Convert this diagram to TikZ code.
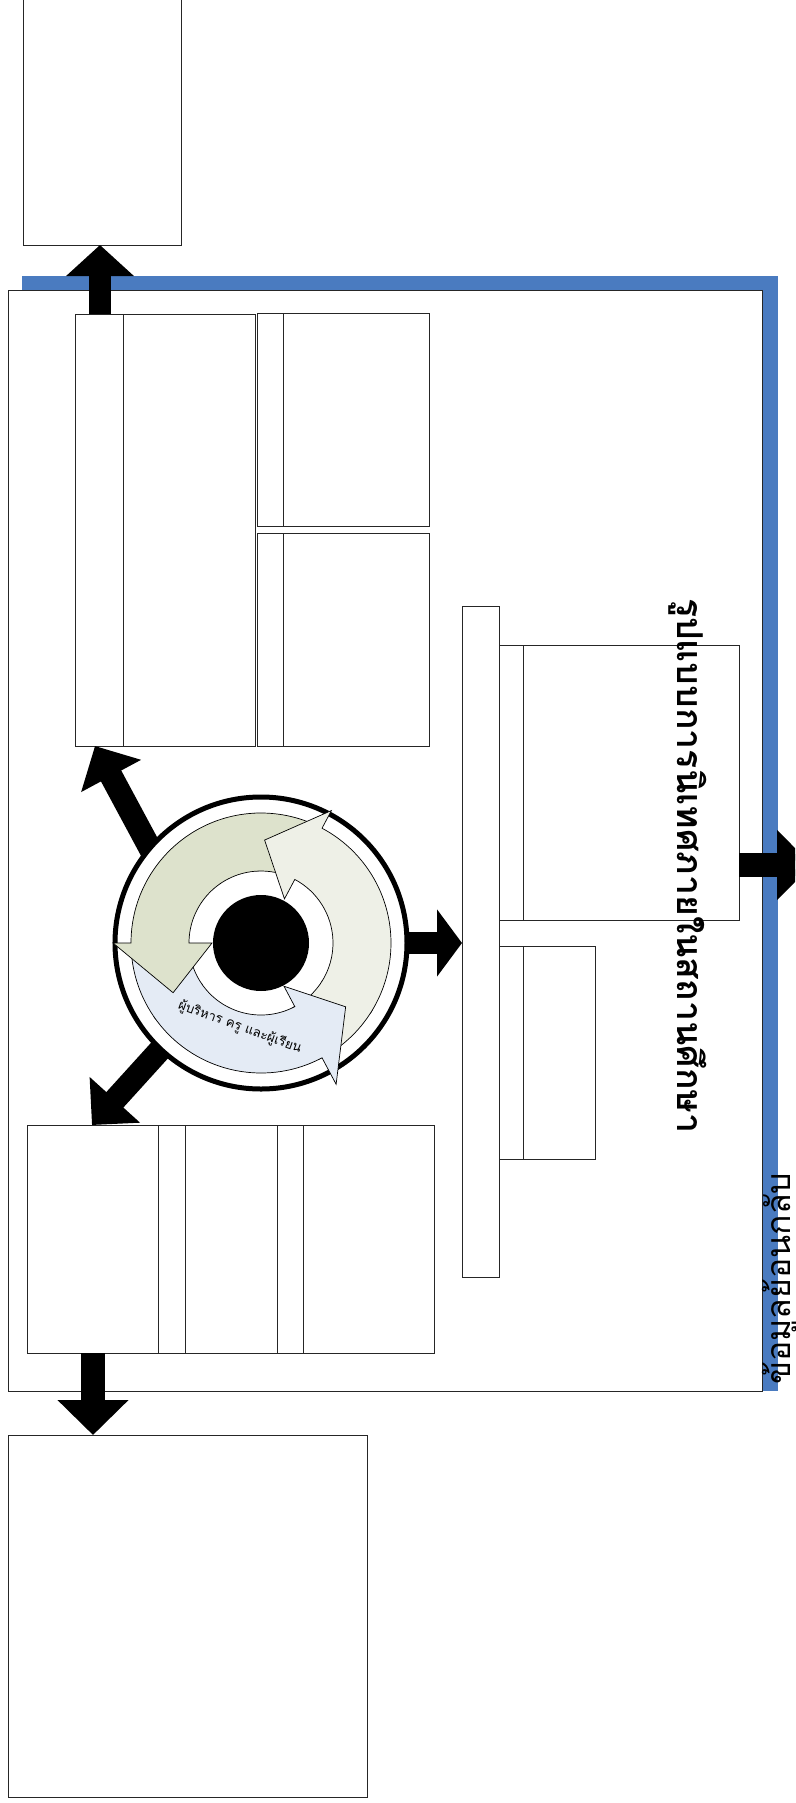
\documentclass[tikz,border=0pt]{standalone}
\usepackage{graphicx}
\usepackage{fontspec}
\usetikzlibrary{arrows.meta,calc}
\newfontfamily\thaifont[Script=Thai]{Loma}
\definecolor{fbblue}{HTML}{4A7BC0}
\definecolor{cgreen}{HTML}{DDE2CC}
\definecolor{clight}{HTML}{EEF0E7}
\definecolor{cblue}{HTML}{E4EBF5}
\begin{document}
\begin{tikzpicture}[x=1pt,y=-1pt,
  box/.style={draw=black!85, line width=0.9pt, inner sep=0pt, outer sep=0pt, anchor=north west, rectangle},
  divl/.style={draw=black!85, line width=0.9pt},
  ol/.style={draw=black, line width=0.7pt},
  blk/.style={draw=black, line width=#1},
]
\useasboundingbox (0,0) rectangle (795,1803);
\clip (0,0) rectangle (795,1803);
\fill[white] (0,0) rectangle (795,1803);

% feedback band
\coordinate (fbA) at (22,283.5);
\coordinate (fbB) at (770.5,283.5);
\coordinate (fbC) at (770.5,1391);
\draw[fbblue, line width=15pt] (fbA) -- (fbB) -- (fbC);

% boxes
\node[box, minimum width=158pt, minimum height=250pt] (topbox) at (23,-5) {};
\node[box, minimum width=754pt, minimum height=1101pt] (bigbox) at (8.5,290) {};
\node[box, minimum width=359pt, minimum height=362pt] (lowbox) at (8,1435) {};

\node[box, minimum width=180pt, minimum height=432pt] (gridTL) at (75,314) {};
\draw[divl] ([xshift=48pt]gridTL.north west) -- ([xshift=48pt]gridTL.south west);
\node[box, minimum width=172pt, minimum height=213pt] (gridTRa) at (257,313) {};
\draw[divl] ([xshift=26pt]gridTRa.north west) -- ([xshift=26pt]gridTRa.south west);
\node[box, minimum width=172pt, minimum height=213pt] (gridTRb) at (257,533) {};
\draw[divl] ([xshift=26pt]gridTRb.north west) -- ([xshift=26pt]gridTRb.south west);

\node[box, minimum width=131pt, minimum height=228pt] (gridBLa) at (27,1125) {};
\node[box, minimum width=119pt, minimum height=228pt] (gridBLb) at (158,1125) {};
\draw[divl] ([xshift=27pt]gridBLb.north west) -- ([xshift=27pt]gridBLb.south west);
\node[box, minimum width=157pt, minimum height=228pt] (gridBLc) at (277,1125) {};
\draw[divl] ([xshift=26pt]gridBLc.north west) -- ([xshift=26pt]gridBLc.south west);

\node[box, minimum width=37pt, minimum height=671pt] (tallbox) at (462,606) {};
\node[box, minimum width=240pt, minimum height=275pt] (titlebox) at (499,645) {};
\draw[divl] ([xshift=24pt]titlebox.north west) -- ([xshift=24pt]titlebox.south west);
\node[box, minimum width=96pt, minimum height=213pt] (smallbox) at (499,946) {};
\draw[divl] ([xshift=24pt]smallbox.north west) -- ([xshift=24pt]smallbox.south west);

% block arrows
\coordinate (cc) at (261,943);
\coordinate (tlStart) at (166,878);
\coordinate (blStart) at (199,1007);
\coordinate (outR) at (812,865);
\draw[blk=22pt, -{Triangle[width=66pt,length=31pt]}] ([xshift=25pt]gridTL.north west) -- ([xshift=77pt]topbox.south west);
\draw[blk=24pt, -{Triangle[width=69pt,length=35pt]}] ([xshift=66pt]gridBLa.south west) -- ([xshift=85pt]lowbox.north west);
\draw[blk=24pt, -{Triangle[width=68pt,length=35pt]}] ([yshift=-82.5pt]titlebox.east) -- (outR);
\draw[blk=22pt, -{Triangle[width=66pt,length=25pt]}] (cc) -- (cc -| tallbox.west);
\draw[blk=23pt, -{Triangle[width=66pt,length=34pt]}] (tlStart) -- ([xshift=20pt]gridTL.south west);
\draw[blk=23pt, -{Triangle[width=66pt,length=34pt]}] (blStart) -- ([xshift=65pt]gridBLa.north west);

% cycle
\node[circle, draw=black, line width=5pt, fill=white, minimum size=292pt, inner sep=0pt] (cyc) at (cc) {};
\begin{scope}[shift={(cc)}, y=1pt]
  % tails
  \fill[cgreen] (64:130) arc[start angle=64,end angle=93,radius=130] -- (93:72) arc[start angle=93,end angle=64,radius=72] -- cycle;
  \draw[ol] (64:130) arc[start angle=64,end angle=93,radius=130];
  \draw[ol] (93:72) arc[start angle=93,end angle=64,radius=72];
  \fill[clight] (-64:130) arc[start angle=-64,end angle=-31,radius=130] -- (-31:72) arc[start angle=-31,end angle=-64,radius=72] -- cycle;
  \draw[ol] (-64:130) arc[start angle=-64,end angle=-31,radius=130];
  \draw[ol] (-31:72) arc[start angle=-31,end angle=-64,radius=72];
  \fill[cblue] (182:130) arc[start angle=182,end angle=216,radius=130] -- (216:72) arc[start angle=216,end angle=182,radius=72] -- cycle;
  \draw[ol] (182:130) arc[start angle=182,end angle=216,radius=130];
  \draw[ol] (216:72) arc[start angle=216,end angle=182,radius=72];
  % main parts
  \fill[cgreen] (92:130) arc[start angle=92,end angle=180,radius=130] -- (180:148) -- (209.5:101) -- (180:49) -- (180:72) arc[start angle=180,end angle=92,radius=72] -- cycle;
  \draw[ol] (92:130) arc[start angle=92,end angle=180,radius=130] -- (180:148) -- (209.5:101) -- (180:49) -- (180:72) arc[start angle=180,end angle=92,radius=72];
  \fill[clight] (-33:130) arc[start angle=-33,end angle=62,radius=130] -- (62:150) -- (88:103) -- (62:50) -- (62:72) arc[start angle=62,end angle=-33,radius=72] -- cycle;
  \draw[ol] (-33:130) arc[start angle=-33,end angle=62,radius=130] -- (62:150) -- (88:103) -- (62:50) -- (62:72) arc[start angle=62,end angle=-33,radius=72];
  \fill[cblue] (214:130) arc[start angle=214,end angle=298,radius=130] -- (298:160) -- (323:106) -- (298:49) -- (298:72) arc[start angle=298,end angle=214,radius=72] -- cycle;
  \draw[ol] (214:130) arc[start angle=214,end angle=298,radius=130] -- (298:160) -- (323:106) -- (298:49) -- (298:72) arc[start angle=298,end angle=214,radius=72];
  \fill[black] (0,0) circle[radius=48];
\end{scope}
\node[rotate=-20, inner sep=0pt] (cyctext) at (240,1027) {\resizebox{130pt}{!}{\thaifont ผู้บริหาร ครู และผู้เรียน}};

% texts
\node[rotate=-90, anchor=base west, inner sep=0pt] (title) at (677,598) {\resizebox{535pt}{!}{\thaifont\bfseries รูปแบบการนิเทศภายในสถานศึกษา}};
\node[rotate=90, anchor=base west, inner sep=0pt] (fbtext) at (790,1385) {\resizebox{212pt}{!}{\thaifont ข้อมูลย้อนกลับ}};
\end{tikzpicture}
\end{document}
